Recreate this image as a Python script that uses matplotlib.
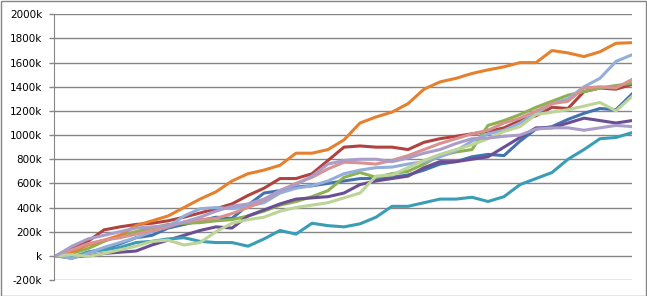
import matplotlib
matplotlib.use("Agg")
import matplotlib.pyplot as plt
from matplotlib.patches import Rectangle

# 37 sample points per series, values in thousands
steps = list(range(37))

blue = [0, -20, 30, 60, 100, 150, 170, 230, 260, 290, 320, 310, 420, 520, 540, 570, 580, 600, 620, 640,
        640, 650, 670, 710, 760, 780, 820, 840, 830, 950, 1050, 1070, 1130, 1180, 1220, 1210, 1340]
red = [0, 60, 120, 215, 240, 260, 270, 290, 320, 355, 390, 430, 500, 560, 640, 640, 680, 790, 900, 910,
       900, 900, 880, 940, 970, 990, 1010, 1030, 1060, 1120, 1160, 1230, 1220, 1360, 1390, 1380, 1420]
green = [0, 20, 60, 120, 170, 200, 230, 260, 270, 275, 290, 300, 330, 370, 420, 450, 490, 540, 650, 690,
         650, 680, 700, 760, 830, 860, 880, 1080, 1120, 1170, 1230, 1280, 1330, 1360, 1390, 1410, 1430]
purple = [0, -10, 0, 20, 30, 40, 90, 130, 170, 210, 240, 230, 330, 380, 430, 470, 480, 490, 520, 590,
          620, 640, 660, 730, 780, 780, 800, 820, 900, 980, 1060, 1060, 1100, 1140, 1120, 1100, 1120]
teal = [0, -10, 30, 50, 70, 110, 120, 140, 150, 120, 110, 110, 80, 140, 210, 180, 270, 250, 240, 265,
        320, 410, 410, 440, 470, 470, 485, 450, 490, 590, 640, 690, 800, 880, 970, 980, 1020]
orange = [0, 30, 90, 130, 170, 250, 290, 330, 400, 470, 530, 620, 680, 710, 750, 850, 850, 880, 960, 1100,
          1150, 1190, 1260, 1380, 1440, 1470, 1510, 1540, 1565, 1600, 1600, 1700, 1680, 1650, 1690, 1760, 1765]
light_blue = [0, -20, 20, 70, 110, 150, 200, 240, 330, 390, 400, 390, 410, 440, 520, 560, 580, 620, 680, 710,
              730, 735, 760, 780, 820, 870, 950, 1010, 1040, 1100, 1180, 1260, 1300, 1400, 1470, 1610, 1665]
salmon = [0, 50, 100, 130, 150, 180, 210, 240, 280, 300, 310, 350, 400, 460, 540, 600, 650, 720, 775, 770,
          760, 790, 830, 880, 930, 970, 1010, 1040, 1100, 1140, 1200, 1260, 1280, 1390, 1400, 1390, 1460]
light_green = [0, 10, -5, 20, 50, 80, 120, 130, 90, 110, 200, 270, 300, 320, 370, 400, 420, 440, 480, 520,
               660, 670, 730, 790, 840, 880, 920, 970, 1030, 1070, 1170, 1190, 1210, 1240, 1270, 1200, 1320]
lavender = [0, 80, 140, 170, 200, 230, 240, 250, 280, 320, 370, 410, 430, 470, 540, 590, 660, 760, 790, 800,
            800, 780, 810, 850, 880, 930, 970, 975, 990, 1000, 1050, 1060, 1060, 1040, 1060, 1080, 1070]

series = [
    (blue, "#4372B0"),
    (red, "#B0433F"),
    (green, "#8DB050"),
    (purple, "#6B4E94"),
    (teal, "#3A9DB6"),
    (orange, "#E5802E"),
    (light_blue, "#93AEDA"),
    (salmon, "#D99290"),
    (light_green, "#BCD497"),
    (lavender, "#AA9DC9"),
]

fig = plt.figure(figsize=(6.47, 2.96), dpi=100)
ax = fig.add_axes([54 / 647, 1 - 280 / 296, 578 / 647, (280 - 14.3) / 296])

for vals, col in series:
    ax.plot(steps, vals, color=col, linewidth=2.2, solid_joinstyle="round")

ax.set_xlim(-0.125, 36)
ax.set_ylim(-200, 2000)
yt = list(range(-200, 2001, 200))
ax.set_yticks(yt)
ax.set_yticklabels([("%dk" % v) if v != 0 else "k" for v in yt])
ax.set_xticks([])
ax.grid(axis="y", color="#868686", linewidth=1)
ax.set_axisbelow(True)
for s in ["top", "right", "bottom"]:
    ax.spines[s].set_visible(False)
ax.spines["left"].set_color("#868686")
ax.tick_params(axis="y", length=3.6, width=1, color="#868686", pad=5, labelsize=7.5, labelcolor="#000000")

fig.patches.append(Rectangle((0.5 / 647, 0.5 / 296), 645.5 / 647, 294.5 / 296, transform=fig.transFigure,
                             fill=False, edgecolor="#868686", linewidth=1))

fig.savefig("out.png", dpi=100)
